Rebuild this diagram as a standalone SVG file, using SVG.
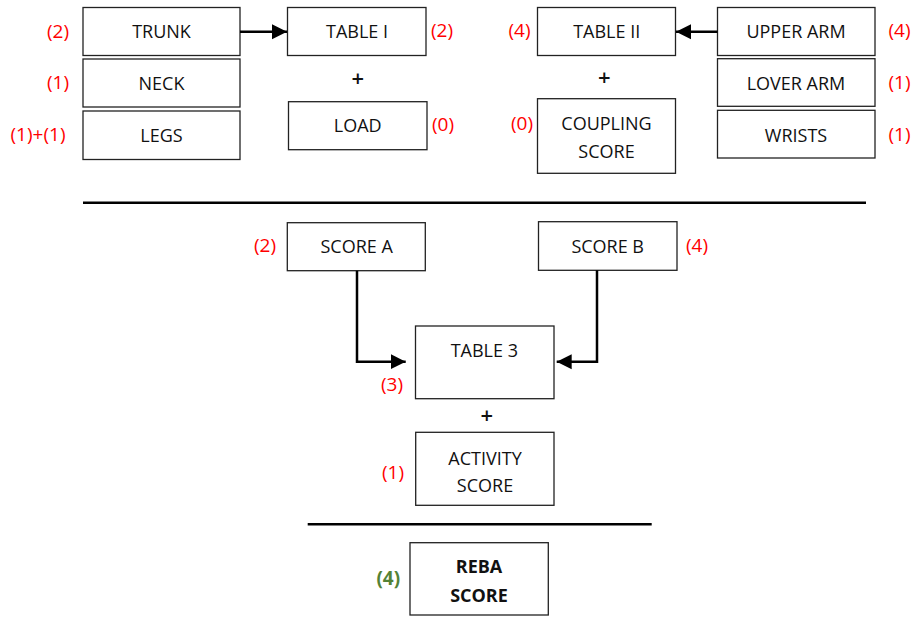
<svg xmlns="http://www.w3.org/2000/svg" width="917" height="617" viewBox="0 0 917 617">
<style>
.box{fill:#fff;stroke:#222;stroke-width:1.3}
.t{font-family:"Open Sans","Liberation Sans",Arial,sans-serif;font-size:18px;fill:#111;text-anchor:middle}
.p{font-family:"Open Sans","Liberation Sans",Arial,sans-serif;font-size:22px;font-weight:600;fill:#111;text-anchor:middle}
.b{font-weight:bold}
.r{font-family:"Open Sans","Liberation Sans",Arial,sans-serif;font-size:19px;fill:#f00;text-anchor:middle}
.g{font-family:"Open Sans","Liberation Sans",Arial,sans-serif;font-size:19px;fill:#548235;font-weight:bold;text-anchor:middle}
.con{fill:none;stroke:#000;stroke-width:2.5}
.rule{stroke:#000;stroke-width:2.5}
</style>
<defs>
<marker id="ah" markerUnits="userSpaceOnUse" markerWidth="16" markerHeight="16" viewBox="0 0 16 16" refX="15" refY="8" orient="auto">
<path d="M0,0.5 L15,8 L0,15.5 Z" fill="#000"/>
</marker>
</defs>
<rect width="917" height="617" fill="#fff"/>

<g id="trunk"><rect class="box" x="83" y="7.5" width="157" height="48"/><text class="t" x="161.5" y="38.3">TRUNK</text><text class="r" x="58" y="38">(2)</text></g>
<g id="neck"><rect class="box" x="83" y="59" width="157" height="48"/><text class="t" x="161.5" y="90">NECK</text><text class="r" x="58" y="89">(1)</text></g>
<g id="legs"><rect class="box" x="83" y="111" width="157" height="48.5"/><text class="t" x="161.5" y="141.7">LEGS</text><text class="r" x="38" y="141">(1)+(1)</text></g>

<g id="table1"><rect class="box" x="287.5" y="7.5" width="138.5" height="48"/><text class="t" x="357" y="38.3">TABLE I</text><text class="r" x="442" y="37">(2)</text></g>
<g id="plus1"><text class="p" x="357.7" y="85.5">+</text></g>
<g id="load"><rect class="box" x="288.5" y="101.7" width="138.5" height="48"/><text class="t" x="357.7" y="132.3">LOAD</text><text class="r" x="443" y="131">(0)</text></g>

<g id="table2"><rect class="box" x="537.5" y="7.5" width="138" height="48"/><text class="t" x="606.7" y="38.3">TABLE II</text><text class="r" x="519.5" y="37">(4)</text></g>
<g id="plus2"><text class="p" x="604.3" y="84.5">+</text></g>
<g id="coupling"><rect class="box" x="537.5" y="98.7" width="138" height="74.6"/><text class="t" x="606.5" y="130">COUPLING</text><text class="t" x="606.5" y="158.3">SCORE</text><text class="r" x="522" y="130">(0)</text></g>

<g id="upperarm"><rect class="box" x="717.5" y="7.5" width="157.5" height="48"/><text class="t" x="796" y="38.3">UPPER ARM</text><text class="r" x="899.5" y="37">(4)</text></g>
<g id="loverarm"><rect class="box" x="717.5" y="58.7" width="157.5" height="47.6"/><text class="t" x="796" y="90">LOVER ARM</text><text class="r" x="899.5" y="89">(1)</text></g>
<g id="wrists"><rect class="box" x="717.5" y="110.3" width="157.5" height="47.7"/><text class="t" x="796" y="141.7">WRISTS</text><text class="r" x="899.5" y="141">(1)</text></g>

<g id="divider1"><line class="rule" x1="83" y1="202.7" x2="866" y2="202.7"/></g>

<g id="scoreA"><rect class="box" x="287.3" y="222.7" width="138" height="48"/><text class="t" x="356.7" y="253.3">SCORE A</text><text class="r" x="265" y="252">(2)</text></g>
<g id="scoreB"><rect class="box" x="538.5" y="221.7" width="138.5" height="48.6"/><text class="t" x="607.7" y="253.3">SCORE B</text><text class="r" x="697" y="252">(4)</text></g>

<g id="table3"><rect class="box" x="415.5" y="326" width="138.5" height="72.7"/><text class="t" x="484.3" y="356.7">TABLE 3</text><text class="r" x="392" y="391">(3)</text></g>
<g id="plus3"><text class="p" x="486.7" y="422.5">+</text></g>
<g id="activity"><rect class="box" x="415.7" y="432.3" width="138.3" height="73"/><text class="t" x="485" y="465">ACTIVITY</text><text class="t" x="485" y="491.7">SCORE</text><text class="r" x="393" y="479">(1)</text></g>

<g id="divider2"><line class="rule" x1="307.7" y1="524.3" x2="651.7" y2="524.3"/></g>

<g id="reba"><rect class="box" x="410" y="542.7" width="138.3" height="72.3"/><text class="t b" x="479" y="573">REBA</text><text class="t b" x="479" y="602">SCORE</text><text class="g" x="388.3" y="585">(4)</text></g>

<g id="connectors">
<line class="con" x1="240" y1="31.7" x2="287" y2="31.7" marker-end="url(#ah)"/>
<line class="con" x1="717.5" y1="31.7" x2="676" y2="31.7" marker-end="url(#ah)"/>
<path class="con" d="M357,270.7 V361.7 H405.7" marker-end="url(#ah)"/>
<path class="con" d="M597,270.3 V361.7 H556.7" marker-end="url(#ah)"/>
</g>
</svg>
